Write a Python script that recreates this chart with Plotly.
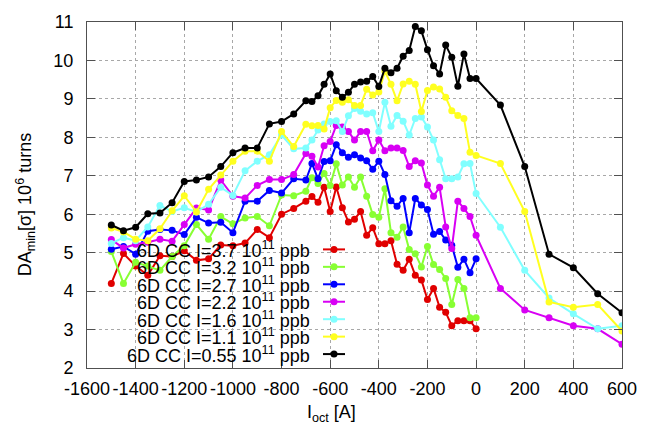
import plotly.graph_objects as go

# ---------------- data ----------------
X_MAIN = list(range(-1500, -700, 50)) + list(range(-700, 25, 25))
X_EXT = [100, 200, 300, 400, 500, 600]

LABELS = ["3.7", "3.2", "2.7", "2.2", "1.6", "1.1", "0.55"]

RED = [4.20, 4.98, 4.65, 4.41, 4.92, 4.90, 5.05, 4.80, 4.84, 5.20, 5.18, 5.25, 5.60, 5.39, 6.00, 6.15,
       6.34, 6.46, 6.31, 6.70, 6.07, 6.71, 6.17, 5.80, 5.87, 6.07, 5.45, 5.65, 5.23, 5.23, 5.31, 4.70,
       4.54, 4.83, 4.41, 4.29, 3.78, 4.07, 3.58, 3.45, 3.10, 3.23, 3.23, 3.23, 3.02]
GREEN = [5.03, 4.20, 4.75, 4.65, 4.54, 4.90, 5.18, 5.73, 5.35, 5.94, 5.75, 5.90, 5.94, 5.70, 6.50, 6.48,
         6.60, 6.95, 6.80, 7.06, 6.75, 7.31, 6.76, 6.97, 6.70, 6.97, 6.47, 5.99, 5.92, 6.66, 5.52, 5.40,
         5.67, 5.08, 4.97, 4.63, 5.16, 4.69, 4.56, 4.33, 3.65, 4.30, 4.07, 3.31, 3.31]
BLUE = [5.09, 5.16, 4.96, 5.56, 5.60, 5.58, 5.47, 5.92, 5.77, 5.79, 5.52, 6.34, 6.34, 6.62, 6.55, 6.92,
        6.89, 7.32, 6.92, 7.37, 7.39, 7.81, 7.60, 7.48, 7.55, 7.46, 7.39, 7.17, 7.38, 7.03, 6.35, 6.21,
        6.41, 5.52, 6.41, 6.24, 6.12, 5.48, 5.55, 5.33, 5.19, 4.62, 4.83, 4.48, 4.84]
MAGENTA = [5.34, 5.12, 5.22, 5.27, 5.35, 5.30, 5.73, 6.16, 6.11, 6.89, 6.47, 6.42, 6.75, 6.90, 6.90, 7.03,
           7.58, 7.51, 7.23, 7.78, 7.89, 8.31, 8.27, 8.15, 7.93, 8.15, 8.15, 7.65, 7.93, 7.65, 7.72, 7.72,
           7.66, 7.24, 7.39, 7.33, 6.76, 6.47, 6.70, 5.67, 5.11, 6.34, 6.15, 5.94, 5.45,
           4.07, 3.51, 3.31, 3.10, 3.02, 2.62]
CYAN = [5.24, 5.39, 5.31, 5.67, 6.23, 6.07, 6.17, 6.06, 6.26, 6.70, 6.49, 7.13, 7.38, 7.55, 8.06, 7.70,
        7.72, 7.93, 8.19, 8.35, 8.41, 8.43, 8.15, 8.56, 8.75, 8.68, 8.61, 8.64, 8.15, 8.91, 8.29, 8.57,
        8.42, 8.06, 8.49, 8.53, 8.27, 7.93, 7.42, 6.92, 6.92, 6.97, 7.31, 7.32, 6.54,
        5.66, 4.54, 3.82, 3.41, 3.02, 3.10]
YELLOW = [5.64, 5.54, 5.35, 5.31, 5.62, 6.09, 6.48, 6.06, 6.65, 7.02, 7.38, 7.64, 7.64, 7.38, 8.15, 7.76,
          8.34, 8.30, 8.31, 8.22, 8.77, 8.96, 8.91, 8.98, 8.83, 8.83, 9.25, 9.10, 9.18, 9.72, 9.38, 8.95,
          9.39, 9.46, 9.38, 8.67, 9.22, 9.31, 9.26, 9.04, 8.69, 8.57, 8.49, 7.61, 7.53,
          7.32, 6.07, 3.72, 3.58, 3.65, 2.96]
BLACK = [5.72, 5.57, 5.66, 6.01, 6.03, 6.30, 6.85, 6.89, 6.97, 7.24, 7.60, 7.72, 7.72, 8.35, 8.41, 8.61,
         8.95, 8.93, 9.08, 9.38, 9.65, 9.21, 9.04, 9.17, 9.38, 9.44, 9.46, 9.58, 9.32, 9.80, 9.68, 9.80,
         10.11, 10.26, 10.88, 10.77, 10.28, 9.86, 9.65, 10.40, 10.08, 9.33, 10.17, 9.53, 9.53,
         8.84, 7.24, 4.96, 4.61, 3.93, 3.44]

X_TICKS = [-1600, -1400, -1200, -1000, -800, -600, -400, -200, 0, 200, 400, 600]
X_TICKTEXT = ["-1600", "-1400", "-1200", "-1000", "-800", "-600", "-400", "-200", "0", "200", "400", "600"]
Y_TICKS = [2, 3, 4, 5, 6, 7, 8, 9, 10, 11]

SERIES = [RED, GREEN, BLUE, MAGENTA, CYAN, YELLOW, BLACK]
COLORS = ["#e00000", "#88ff33", "#0000ff", "#d800f4", "#80ffff", "#ffff20", "#000000"]

# ---------------- layout constants ----------------
W, H = 650, 428
L, R, T, B = 87, 622, 15, 368
FONT = "Liberation Sans, Arial, Helvetica, sans-serif"
FS = 18


def paper(px, py):
    return (px - L) / (R - L), (B - py) / (B - T)


fig = go.Figure()

for ys, col in zip(SERIES, COLORS):
    xs = (X_MAIN + X_EXT)[:len(ys)]
    fig.add_trace(go.Scatter(
        x=xs, y=ys, mode="lines+markers",
        line=dict(color=col, width=2),
        marker=dict(color=col, size=7, symbol="circle"),
        showlegend=False, hoverinfo="skip"))

# manual gnuplot-style key: right-aligned text, sample line on the right
annotations = []
row0, dy = 247, 17.8
for i, (lab, col) in enumerate(zip(LABELS, COLORS)):
    py = row0 + dy * i
    tx, ty = paper(312, py)
    annotations.append(dict(
        x=tx, y=ty, xref="paper", yref="paper", xanchor="right", yanchor="middle",
        text=f"6D CC I={lab} 10<sup>11</sup> ppb", showarrow=False,
        font=dict(family=FONT, size=FS, color="black")))
    x0, y0 = paper(323, py)
    x1, _ = paper(345, py)
    xm, _ = paper(334, py)
    fig.add_trace(go.Scatter(
        x=[x0, x1], y=[y0, y0], mode="lines", line=dict(color=col, width=2),
        xaxis="x2", yaxis="y2", showlegend=False, hoverinfo="skip"))
    fig.add_trace(go.Scatter(
        x=[xm], y=[y0], mode="markers", marker=dict(color=col, size=7),
        xaxis="x2", yaxis="y2", showlegend=False, hoverinfo="skip"))

# axis titles
ax, ay = paper(25, 201)
annotations.append(dict(
    x=ax, y=ay, xref="paper", yref="paper", xanchor="center", yanchor="middle",
    text="DA<sub>min</sub>[σ] 10<sup>6</sup> turns", textangle=-90, showarrow=False,
    font=dict(family=FONT, size=FS, color="black")))
bx, by = paper(331, 414)
annotations.append(dict(
    x=bx, y=by, xref="paper", yref="paper", xanchor="center", yanchor="middle",
    text="I<sub>oct</sub> [A]", showarrow=False,
    font=dict(family=FONT, size=FS, color="black")))

axis_common = dict(
    showline=True, linecolor="#505050", linewidth=1, mirror="allticks",
    ticks="inside", ticklen=8, tickcolor="#505050", tickwidth=1,
    showgrid=True, gridcolor="#a8a8a8", griddash="dot", gridwidth=1,
    zeroline=False, tickfont=dict(family=FONT, size=FS, color="black"),
)

fig.update_layout(
    width=W, height=H,
    margin=dict(l=L, r=W - R, t=T, b=H - B, pad=0),
    paper_bgcolor="white", plot_bgcolor="white",
    xaxis=dict(range=[-1600, 600], tickvals=X_TICKS, ticktext=X_TICKTEXT, tickangle=0,
               ticklabelstandoff=4, **axis_common),
    yaxis=dict(range=[2, 11], tickvals=Y_TICKS, ticklabelstandoff=9, **axis_common),
    xaxis2=dict(overlaying="x", range=[0, 1], visible=False, fixedrange=True),
    yaxis2=dict(overlaying="y", range=[0, 1], visible=False, fixedrange=True),
    annotations=annotations,
    showlegend=False,
)

fig.write_html("out.html")
